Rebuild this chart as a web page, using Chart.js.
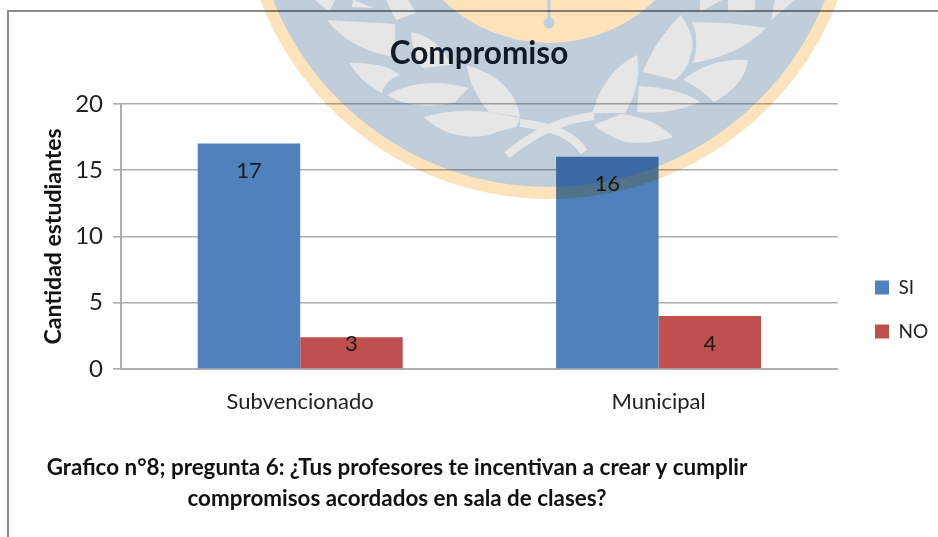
<!DOCTYPE html>
<html>
<head>
<meta charset="utf-8">
<style>
  html, body { margin: 0; padding: 0; background: #fff; overflow: hidden; }
  #wrap { width: 938px; height: 537px; }
</style>
<script src="https://cdn.jsdelivr.net/npm/chart.js@4"></script>
</head>
<body>
<div id="wrap"><canvas id="myChart" width="938" height="537"></canvas></div>
<script>
const categories = ['Subvencionado', 'Municipal'];
const si_values = [17, 16];
const no_values = [2.4, 4];
// the red bar of the first group is drawn shorter than its printed label
const si_labels = ['17', '16'];
const no_labels = ['3', '4'];
const y_ticks = [0, 5, 10, 15, 20];
const caption_lines = [
    'Grafico n°8; pregunta 6: ¿Tus profesores te incentivan a crear y cumplir',
    'compromisos acordados en sala de clases?'
];

const FONT = 'Lato, Carlito, sans-serif';
const GRID = '#aeaeae';

// background seal, it sits on top of the chart like a watermark
const leaves = [
    'M327,20 Q360,22 395,24 L395,57 Q350,50 327,20Z',
    'M411,32 Q440,38 451,65 L422,68 Q412,50 411,32Z',
    'M350,63 Q385,62 400,75 Q385,80 382,93 Q358,80 350,63Z',
    'M387,95 Q420,75 469,88 Q458,97 456,102 Q415,112 387,95Z',
    'M467,65 Q515,80 520,117 L489,112 Q470,90 467,65Z',
    'M424,117 Q455,108 489,112 L520,118 L516,127 Q500,130 490,135 Q450,142 424,117Z',
    'M692,22 Q730,22 766,28 Q740,55 693,63 Q700,40 692,22Z',
    'M681,15 Q698,40 690,57 Q688,70 675,80 L643,72 Q655,40 681,15Z',
    'M748,60 Q710,58 683,80 Q700,88 714,102 Q745,85 748,60Z',
    'M639,86 Q680,88 700,102 Q670,115 637,112Z',
    'M637,55 Q605,70 592,113 L625,113 Q642,85 637,55Z',
    'M621,114 Q655,118 673,137 Q650,145 625,142 Q605,135 594,125Z',
    'M315,0 L335,0 L329,12Z',
    'M353,0 L374,8 L352,7Z',
    'M386,0 L408,0 L416,13 L396,20Z',
    'M700,12 L722,0 L700,0Z',
    'M728,0 L755,0 L755,10 L728,12Z',
    'M771,20 L795,0 L775,0Z'
];

function buildSeal(w, h) {
    const off = document.createElement('canvas');
    off.width = w;
    off.height = h;
    const c = off.getContext('2d');
    const cx = 549, cy = -110;

    c.fillStyle = '#fff';
    c.fillRect(0, 0, w, h);

    c.fillStyle = '#fde3bc';
    c.beginPath();
    c.arc(cx, cy, 309, 0, Math.PI * 2);
    c.fill();

    c.fillStyle = '#c0cedc';
    c.beginPath();
    c.arc(cx, cy, 297, 0, Math.PI * 2);
    c.fill();

    c.fillStyle = '#fde3bc';
    c.beginPath();
    c.arc(cx, cy, 153, 0, Math.PI * 2);
    c.fill();

    // drop in the middle of the yellow circle
    c.fillStyle = '#c0cedc';
    c.beginPath();
    c.arc(cx, 23, 5.5, 0, Math.PI * 2);
    c.fill();
    c.fillRect(cx - 1.5, 0, 3, 20);

    c.fillStyle = '#e6e6e6';
    leaves.forEach(d => c.fill(new Path2D(d)));
    c.strokeStyle = '#e6e6e6';
    c.lineWidth = 8;
    c.stroke(new Path2D('M594,116 Q550,120 507,155'));
    c.stroke(new Path2D('M520,123 Q570,128 584,152'));
    return off;
}

const sealPlugin = {
    id: 'seal',
    beforeDraw(chart) {
        const c = chart.ctx;
        c.save();
        c.fillStyle = '#fff';
        c.fillRect(0, 0, chart.width, chart.height);
        // frame of the pasted picture
        c.strokeStyle = '#8a8a8a';
        c.lineWidth = 2;
        c.beginPath();
        c.moveTo(938, 11);
        c.lineTo(8, 11);
        c.lineTo(8, 537);
        c.stroke();
        c.restore();
    },
    afterDraw(chart) {
        const c = chart.ctx;
        c.save();

        // caption under the chart
        c.fillStyle = '#111';
        c.font = 'bold 22.4px ' + FONT;
        c.textAlign = 'center';
        c.textBaseline = 'middle';
        c.fillText(caption_lines[0], 397, 468);
        c.fillText(caption_lines[1], 397, 499);

        c.globalCompositeOperation = 'multiply';
        c.drawImage(buildSeal(chart.width, chart.height), 0, 0);
        c.restore();
    }
};

const barLabelPlugin = {
    id: 'barLabels',
    afterDatasetsDraw(chart) {
        const c = chart.ctx;
        const yScale = chart.scales.y;
        c.save();
        c.fillStyle = '#1a1a1a';
        c.font = '22px ' + FONT;
        c.textAlign = 'center';
        c.textBaseline = 'middle';
        chart.getDatasetMeta(0).data.forEach((bar, i) => {
            c.fillText(si_labels[i], bar.x, bar.y + 27);
        });
        chart.getDatasetMeta(1).data.forEach((bar, i) => {
            c.fillText(no_labels[i], bar.x, yScale.getPixelForValue(1.9));
        });
        c.restore();
    }
};

const legendMovePlugin = {
    id: 'legendMove',
    afterLayout(chart) {
        // legend clips to its own box, so the right edge has to move too
        chart.legend.left = 850;
        chart.legend.right = 938;
        chart.legend.width = 88;
        chart.legend.top = 253;
    }
};

const ctx = document.getElementById('myChart').getContext('2d');
const myChart = new Chart(ctx, {
    type: 'bar',
    data: {
        labels: categories,
        datasets: [{
            label: 'SI',
            data: si_values,
            backgroundColor: '#4f81bd'
        }, {
            label: 'NO',
            data: no_values,
            backgroundColor: '#c0504d'
        }]
    },
    options: {
        responsive: false,
        animation: false,
        layout: { padding: { left: 32, right: 12, top: 0, bottom: 0 } },
        datasets: { bar: { categoryPercentage: 0.572, barPercentage: 1 } },
        plugins: {
            title: {
                display: true,
                text: 'Compromiso',
                color: '#14202c',
                font: { family: FONT, size: 31.5, weight: 'bold', lineHeight: 1.2 },
                padding: { top: 35, bottom: 31 }
            },
            legend: {
                display: true,
                position: 'right',
                align: 'start',
                labels: {
                    boxWidth: 14,
                    boxHeight: 14,
                    color: '#222',
                    font: { family: FONT, size: 19, lineHeight: 1.05 },
                    padding: 25
                }
            },
            tooltip: { enabled: false }
        },
        scales: {
            x: {
                grid: { display: false },
                border: { display: true, color: GRID, width: 2 },
                ticks: {
                    color: '#222',
                    font: { family: FONT, size: 22 },
                    padding: 12,
                    maxRotation: 0
                },
                afterFit(scale) { scale.height = 168; }
            },
            y: {
                min: 0,
                max: 20,
                afterBuildTicks(scale) { scale.ticks = y_ticks.map(v => ({ value: v })); },
                grid: { color: GRID, lineWidth: 1.6, tickLength: 8 },
                border: { display: true, color: GRID, width: 2 },
                ticks: {
                    color: '#222',
                    font: { family: FONT, size: 24 },
                    padding: 10
                },
                title: {
                    display: true,
                    text: 'Cantidad estudiantes',
                    color: '#111',
                    font: { family: FONT, size: 23, weight: 'bold', lineHeight: 1.2 },
                    padding: { top: 8, bottom: 0 }
                },
                afterFit(scale) { scale.width = 89; }
            }
        }
    },
    plugins: [sealPlugin, barLabelPlugin, legendMovePlugin]
});
</script>
</body>
</html>
